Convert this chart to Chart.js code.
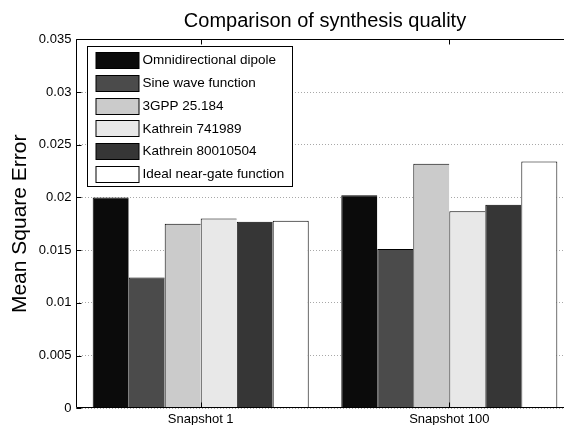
<!DOCTYPE html>
<html>
<head>
<meta charset="utf-8">
<script src="https://cdn.jsdelivr.net/npm/chart.js@4/dist/chart.umd.min.js"></script>
<style>
html,body{margin:0;padding:0;overflow:hidden;background:#fff;}
#wrap{width:600px;height:425px;}
</style>
</head>
<body>
<div id="wrap"><canvas id="c" width="600" height="425"></canvas></div>
<script>
const categories = ['Snapshot 1', 'Snapshot 100'];
const seriesNames = ['Omnidirectional dipole', 'Sine wave function', '3GPP 25.184', 'Kathrein 741989', 'Kathrein 80010504', 'Ideal near-gate function'];
const omnidirectional = [0.0200, 0.0202];
const sineWave = [0.0124, 0.0151];
const gpp25184 = [0.0175, 0.0232];
const kathrein741989 = [0.0180, 0.0187];
const kathrein80010504 = [0.0177, 0.0193];
const idealNearGate = [0.0178, 0.0234];
const yTicks = [0, 0.005, 0.01, 0.015, 0.02, 0.025, 0.03, 0.035];

const seriesValues = [omnidirectional, sineWave, gpp25184, kathrein741989, kathrein80010504, idealNearGate];
const fills = ['#0b0b0b', '#4b4b4b', '#cbcbcb', '#e8e8e8', '#363636', '#ffffff'];
const FONT = "'Liberation Sans', Arial, sans-serif";

const datasets = seriesValues.map((vals, i) => ({
  label: seriesNames[i],
  data: vals,
  backgroundColor: fills[i],
  borderColor: '#000',
  borderWidth: i === seriesValues.length - 1 ? {left: 1, top: 1, right: 1, bottom: 0} : {left: 1, top: 1, right: 0, bottom: 0},
  borderSkipped: 'start',
  categoryPercentage: 0.869,
  barPercentage: 1.0
}));

const axesPlugin = {
  id: 'matlabAxes',
  afterDatasetsDraw(chart) {
    const {ctx, chartArea: a, scales} = chart;
    ctx.save();
    ctx.strokeStyle = '#000';
    ctx.lineWidth = 1;
    const L = Math.round(a.left) + 0.5, T = Math.round(a.top) + 0.5, B = Math.round(a.bottom) - 0.5, R = Math.round(a.right) - 0.5;
    ctx.beginPath();
    ctx.moveTo(R, T); ctx.lineTo(L, T); ctx.lineTo(L, B); ctx.lineTo(R, B);
    ctx.stroke();
    // inward ticks
    ctx.beginPath();
    yTicks.forEach(v => {
      const y = Math.round(scales.y.getPixelForValue(v)) + 0.5;
      ctx.moveTo(L, y); ctx.lineTo(L + 5, y);
    });
    categories.forEach((c, i) => {
      const x = Math.round(scales.x.getPixelForValue(i)) + 0.5;
      ctx.moveTo(x, T); ctx.lineTo(x, T + 5);
      ctx.moveTo(x, B); ctx.lineTo(x, B - 5);
    });
    ctx.stroke();

    // legend
    const bx = Math.round(a.left + 11) + 0.5, by = Math.round(a.top + 6.7) + 0.5;
    const bw = 205, bh = 140;
    ctx.fillStyle = '#fff';
    ctx.fillRect(bx, by, bw, bh);
    ctx.strokeRect(bx, by, bw, bh);
    ctx.font = '13.5px ' + FONT;
    ctx.textBaseline = 'middle';
    ctx.textAlign = 'left';
    chart.data.datasets.forEach((ds, i) => {
      const cy = by + 13.7 + i * 22.7;
      const sy = Math.round(cy - 8) + 0.5;
      ctx.fillStyle = ds.backgroundColor;
      ctx.fillRect(bx + 8.5, sy, 43, 16);
      ctx.strokeRect(bx + 8.5, sy, 43, 16);
      ctx.fillStyle = '#000';
      ctx.fillText(ds.label, bx + 55, cy + 0.5);
    });
    ctx.restore();
  }
};

new Chart(document.getElementById('c'), {
  type: 'bar',
  data: {labels: categories, datasets},
  options: {
    responsive: false,
    animation: false,
    devicePixelRatio: 1,
    layout: {padding: {left: 0, right: 26.4, top: 0, bottom: 0}},
    plugins: {
      legend: {display: false},
      tooltip: {enabled: false},
      title: {
        display: true,
        fullSize: false,
        text: 'Comparison of synthesis quality',
        color: '#000',
        font: {family: FONT, size: 20, weight: 'normal', lineHeight: 1.2},
        padding: {top: 9, bottom: 6.3}
      }
    },
    scales: {
      x: {
        type: 'category',
        offset: true,
        grid: {display: false, drawTicks: false},
        border: {display: false},
        ticks: {color: '#000', font: {family: FONT, size: 13}, padding: 3.5, maxRotation: 0, autoSkip: false},
        afterFit(s) { s.height = 16.7; }
      },
      y: {
        min: 0,
        max: 0.035,
        grid: {color: '#a8a8a8', lineWidth: 1, drawTicks: false},
        border: {display: false, dash: [1, 2]},
        ticks: {color: '#000', font: {family: FONT, size: 13}, padding: 5,
          callback: v => String(Number(v.toFixed(3)))},
        afterBuildTicks(s) { s.ticks = yTicks.map(v => ({value: v})); },
        title: {display: true, text: 'Mean Square Error', color: '#000',
          font: {family: FONT, size: 21, lineHeight: 1.2}, padding: {top: 7.4, bottom: 0}},
        afterFit(s) { s.width = 76.4; }
      }
    }
  },
  plugins: [axesPlugin]
});
</script>
</body>
</html>
